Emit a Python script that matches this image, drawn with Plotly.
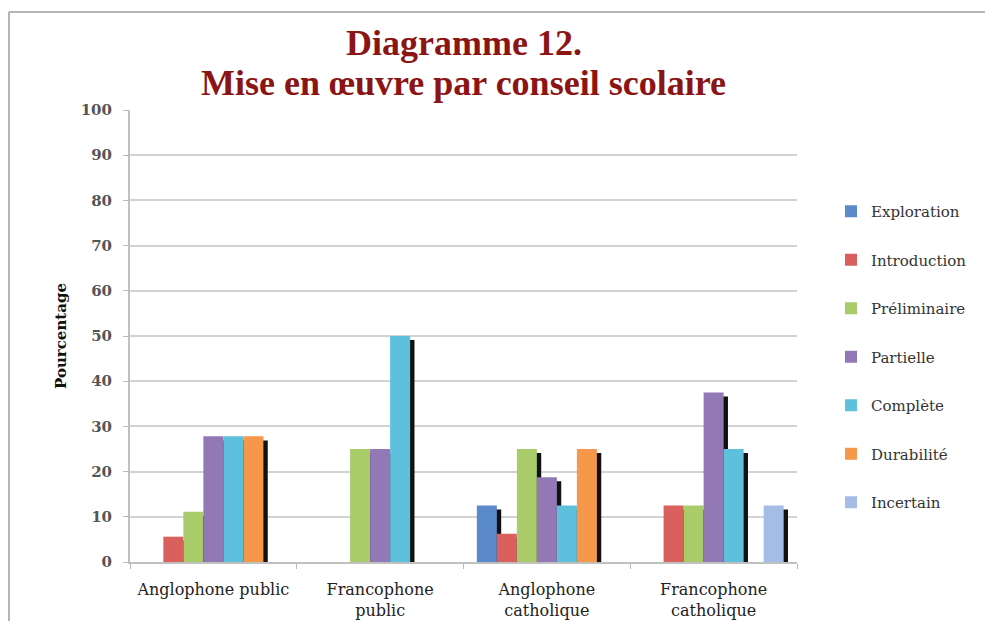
import plotly.graph_objects as go

# Data (percentages)
categories = ["Anglophone public", "Francophone<br>public",
              "Anglophone<br>catholique", "Francophone<br>catholique"]
series_names = ["Exploration", "Introduction", "Préliminaire", "Partielle",
                "Complète", "Durabilité", "Incertain"]
exploration = [0, 0, 12.5, 0]
introduction = [5.6, 0, 6.25, 12.5]
preliminaire = [11.1, 25, 25, 12.5]
partielle = [27.8, 25, 18.75, 37.5]
complete = [27.8, 50, 12.5, 25]
durabilite = [27.8, 0, 25, 0]
incertain = [0, 0, 0, 12.5]
y_ticks = list(range(0, 101, 10))

series_values = [exploration, introduction, preliminaire, partielle,
                 complete, durabilite, incertain]
colors = ["#5B8ACB", "#D9605C", "#A9CB6A", "#9279B5", "#5EC0DD", "#F7974A", "#A3BDE6"]

BAR_W = 0.12
START = -0.42
SHADOW_DX = 0.026   # ~4px to the right
SHADOW_DY = 0.9     # ~4px downward

# the page body has an 8px margin, so the figure is shrunk to fit the window
BODY = 8
PL, PT, PW, PH = 130, 110, 667, 452   # plot area in window pixels

fig = go.Figure()

# shadows first so every coloured bar sits above them
for i, vals in enumerate(series_values):
    fig.add_trace(go.Bar(
        x=categories, y=vals, base=-SHADOW_DY,
        offset=START + BAR_W * i + SHADOW_DX, width=BAR_W,
        marker=dict(color="#111111", line=dict(width=0)),
        showlegend=False, hoverinfo="skip"))

for i, (name, vals) in enumerate(zip(series_names, series_values)):
    fig.add_trace(go.Bar(
        x=categories, y=vals, name=name,
        offset=START + BAR_W * i, width=BAR_W,
        marker=dict(color=colors[i], line=dict(width=0)),
        legendgroup=name))

fig.update_layout(
    width=993 - BODY, height=621 - BODY,
    margin=dict(l=PL - BODY, r=993 - PL - PW, t=PT - BODY, b=621 - PT - PH,
                autoexpand=False),
    paper_bgcolor="white", plot_bgcolor="white",
    barmode="overlay",
    showlegend=True,
    legend=dict(x=1 + (831 - PL - PW) / PW, y=1 - (195 - PT) / PH,
                xanchor="left", yanchor="top",
                font=dict(family="DejaVu Serif", size=15, color="#333333"),
                tracegroupgap=26, itemwidth=30, bgcolor="rgba(0,0,0,0)"),
    font=dict(family="DejaVu Serif"),
)

title_font = dict(family="Liberation Serif", size=36, color="#8B1414")
fig.add_annotation(text="<b>Diagramme 12.</b>", xref="paper", yref="paper",
                   x=0.5, y=1 + (PT - 43) / PH, xanchor="center", yanchor="middle",
                   showarrow=False, font=title_font)
fig.add_annotation(text="<b>Mise en œuvre par conseil scolaire</b>", xref="paper", yref="paper",
                   x=0.5, y=1 + (PT - 83) / PH, xanchor="center", yanchor="middle",
                   showarrow=False, font=title_font)

fig.update_xaxes(
    type="category", tickson="boundaries", ticks="outside", ticklen=5,
    tickcolor="#B8B8B8", showline=True, linecolor="#C0C0C0", linewidth=2,
    showgrid=False, tickfont=dict(family="DejaVu Serif", size=16, color="#222222"),
    ticklabelstandoff=12, range=[-0.5, 3.5], automargin=False)

fig.update_yaxes(
    range=[0, 100], tickvals=y_ticks, ticks="outside", ticklen=5,
    tickcolor="#B8B8B8", showline=True, linecolor="#C0C0C0", linewidth=2,
    showgrid=True, gridcolor="#D3D3D3", gridwidth=2, zeroline=False,
    tickfont=dict(family="DejaVu Serif", size=15, color="#555555", weight="bold"),
    ticklabelstandoff=8, automargin=False,
    title=dict(text="<b>Pourcentage</b>", standoff=10,
               font=dict(family="DejaVu Serif", size=15, color="#111111")))

# picture frame: top and left border
fig.add_shape(type="line", xref="paper", yref="paper",
              x0=(9 - PL) / PW, x1=(993 - PL) / PW,
              y0=1 + (PT - 12) / PH, y1=1 + (PT - 12) / PH,
              line=dict(color="#B4B4B4", width=2))
fig.add_shape(type="line", xref="paper", yref="paper",
              x0=(9 - PL) / PW, x1=(9 - PL) / PW,
              y0=1 + (PT - 12) / PH, y1=-(621 - PT - PH) / PH,
              line=dict(color="#B4B4B4", width=2))

fig.write_html("out.html")
